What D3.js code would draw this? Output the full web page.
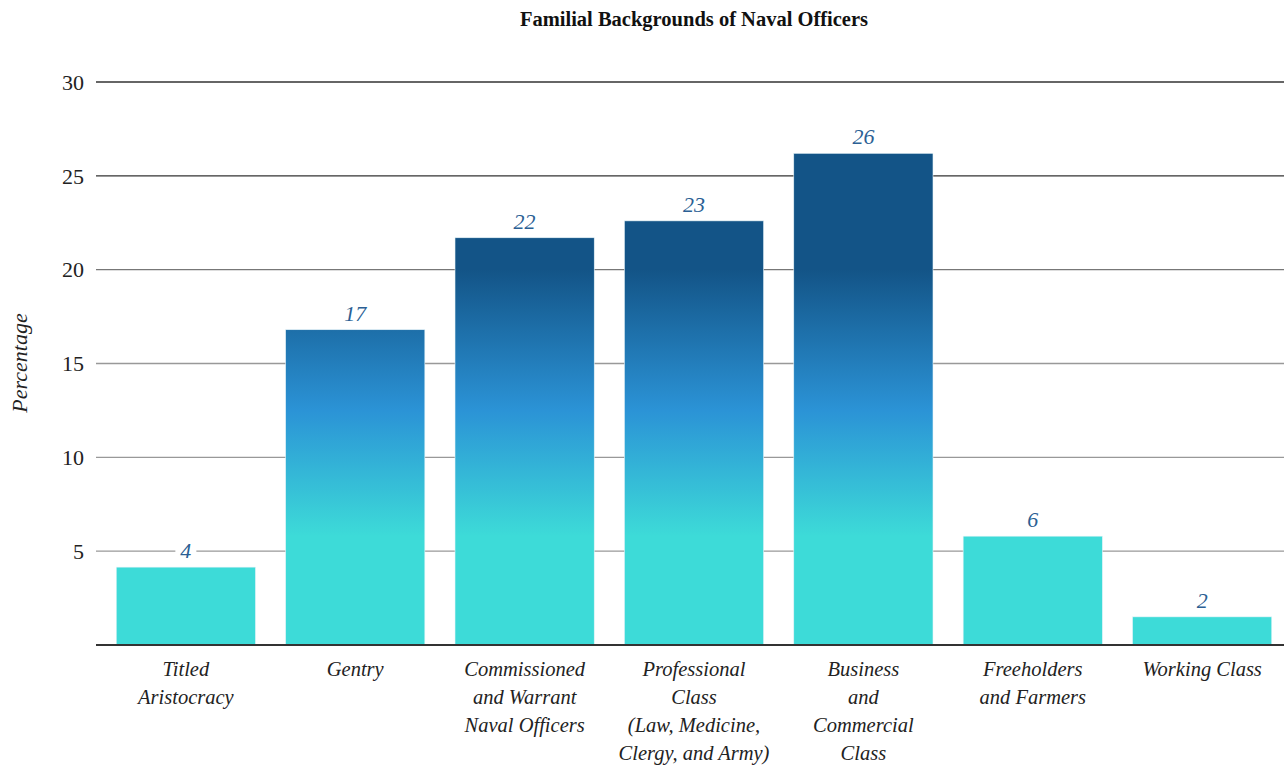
<!DOCTYPE html>
<html>
<head>
<meta charset="utf-8">
<script src="https://cdn.jsdelivr.net/npm/d3@7"></script>
<style>
  body { margin: 0; background: #fff; }
  text { font-family: "Liberation Serif", "Times New Roman", serif; }
</style>
</head>
<body>
<div id="chart"></div>
<script>
// Data
const categories = [
  ["Titled", "Aristocracy"],
  ["Gentry"],
  ["Commissioned", "and Warrant", "Naval Officers"],
  ["Professional", "Class", "(Law, Medicine,", "Clergy, and Army)"],
  ["Business", "and", "Commercial", "Class"],
  ["Freeholders", "and Farmers"],
  ["Working Class"]
];
const percentages = [4.15, 16.8, 21.7, 22.6, 26.2, 5.8, 1.5];
const yTicks = [5, 10, 15, 20, 25, 30];

const width = 1284, height = 765;
const svg = d3.select("#chart")
  .append("svg")
  .attr("width", width)
  .attr("height", height);

const x = d3.scaleBand()
  .domain(d3.range(categories.length))
  .range([101, 1287])
  .paddingInner(0.178)
  .paddingOuter(0.09);

const y = d3.scaleLinear()
  .domain([0, 30])
  .range([645, 82]);

// gradient in value space so short bars stay cyan
const grad = svg.append("defs").append("linearGradient")
  .attr("id", "barGrad")
  .attr("gradientUnits", "userSpaceOnUse")
  .attr("x1", 0).attr("x2", 0)
  .attr("y1", y(0)).attr("y2", y(30));
[[0, "#3ddbd8"], [5.8, "#3ddbd8"], [12.5, "#2b93d6"], [20, "#135487"], [30, "#135487"]]
  .forEach(([v, c]) => grad.append("stop").attr("offset", v / 30).attr("stop-color", c));

// gridlines (upper ones darker, as in the original)
const gridColor = d => d >= 25 ? "#333" : (d === 20 ? "#777" : "#999");
svg.append("g")
  .selectAll("line")
  .data(yTicks)
  .enter()
  .append("line")
    .attr("x1", 96)
    .attr("x2", width)
    .attr("y1", d => y(d))
    .attr("y2", d => y(d))
    .attr("stroke", gridColor)
    .attr("stroke-width", 1.3);

// y tick labels
svg.append("g")
  .selectAll("text")
  .data(yTicks)
  .enter()
  .append("text")
    .attr("x", 84)
    .attr("y", d => y(d))
    .attr("dy", "0.35em")
    .attr("text-anchor", "end")
    .attr("font-size", 22)
    .attr("fill", "#222")
    .text(d => d);

// bars
svg.append("g")
  .selectAll("rect")
  .data(percentages)
  .enter()
  .append("rect")
    .attr("x", (d, i) => x(i))
    .attr("y", d => y(d))
    .attr("width", x.bandwidth())
    .attr("height", d => y(0) - y(d))
    .attr("fill", "url(#barGrad)")
    .attr("stroke", "#e6f4f8")
    .attr("stroke-width", 0.6);

// baseline
svg.append("line")
  .attr("x1", 96)
  .attr("x2", width)
  .attr("y1", y(0))
  .attr("y2", y(0))
  .attr("stroke", "#333")
  .attr("stroke-width", 2);

// value labels with white backing
const labels = svg.append("g")
  .selectAll("g")
  .data(percentages)
  .enter()
  .append("g");

labels.append("rect")
  .attr("fill", "#fff");

labels.append("text")
  .attr("x", (d, i) => x(i) + x.bandwidth() / 2)
  .attr("y", d => y(d) - 9)
  .attr("text-anchor", "middle")
  .attr("font-size", 22)
  .attr("font-style", "italic")
  .attr("fill", "#2b5f94")
  .text(d => Math.round(d));

labels.each(function() {
  const g = d3.select(this);
  const b = g.select("text").node().getBBox();
  g.select("rect")
    .attr("x", b.x - 5)
    .attr("y", b.y)
    .attr("width", b.width + 10)
    .attr("height", b.height);
});

// x labels
const xl = svg.append("g")
  .selectAll("text")
  .data(categories)
  .enter()
  .append("text")
    .attr("x", (d, i) => x(i) + x.bandwidth() / 2)
    .attr("y", 676)
    .attr("text-anchor", "middle")
    .attr("font-size", 20.5)
    .attr("font-style", "italic")
    .attr("fill", "#222");

xl.selectAll("tspan")
  .data(d => d)
  .enter()
  .append("tspan")
    .attr("x", function() { return d3.select(this.parentNode).attr("x"); })
    .attr("dy", (d, i) => i === 0 ? 0 : 28)
    .text(d => d);

// title
svg.append("text")
  .attr("x", 694)
  .attr("y", 26)
  .attr("text-anchor", "middle")
  .attr("font-size", 20.5)
  .attr("font-weight", "bold")
  .attr("fill", "#111")
  .text("Familial Backgrounds of Naval Officers");

// y axis label
svg.append("text")
  .attr("transform", "rotate(-90)")
  .attr("x", -363)
  .attr("y", 27)
  .attr("text-anchor", "middle")
  .attr("font-size", 22)
  .attr("font-style", "italic")
  .attr("fill", "#222")
  .text("Percentage");
</script>
</body>
</html>
